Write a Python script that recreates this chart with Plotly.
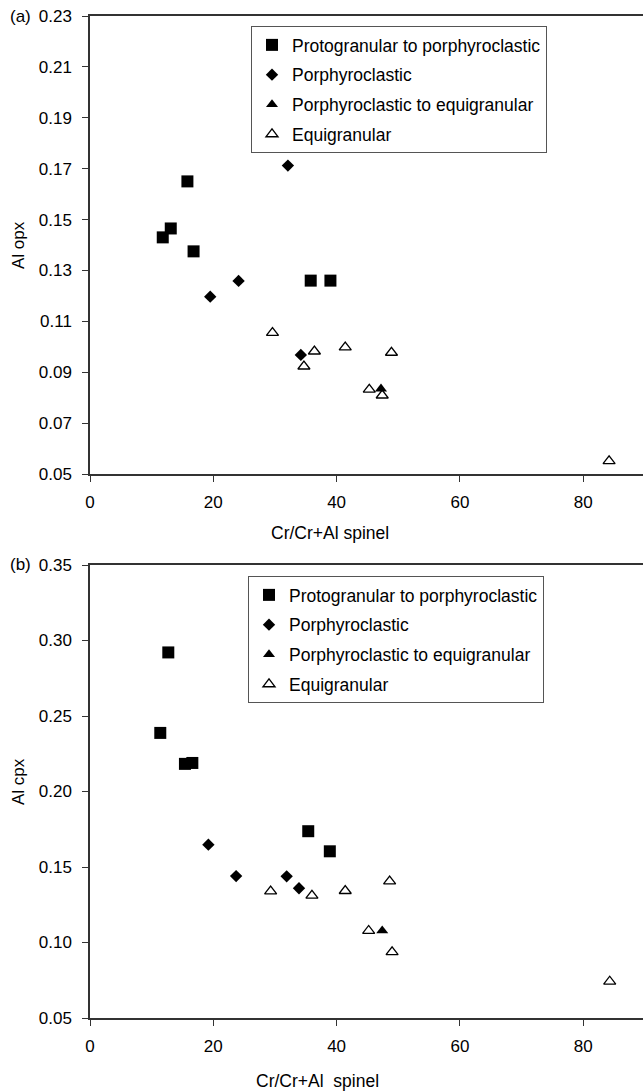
import plotly.graph_objects as go

# ---------------- data (a) Al opx ----------------
proto_x_a = [11.8, 13.1, 15.8, 16.8, 35.8, 39.0]
proto_y_a = [0.143, 0.1465, 0.165, 0.1375, 0.126, 0.126]
porph_x_a = [19.5, 24.1, 32.1, 34.2]
porph_y_a = [0.1197, 0.1259, 0.1712, 0.0968]
pte_x_a = [47.2]
pte_y_a = [0.0835]
equi_x_a = [29.6, 34.7, 36.4, 41.4, 45.3, 47.4, 48.9, 84.2]
equi_y_a = [0.1055, 0.0923, 0.0982, 0.0998, 0.0832, 0.0809, 0.0977, 0.0551]

# ---------------- data (b) Al cpx ----------------
proto_x_b = [11.4, 12.7, 15.4, 16.6, 35.4, 38.9]
proto_y_b = [0.2388, 0.2921, 0.2183, 0.2189, 0.1737, 0.1604]
porph_x_b = [19.2, 23.7, 31.9, 33.9]
porph_y_b = [0.1648, 0.1440, 0.1438, 0.1359]
pte_x_b = [47.4]
pte_y_b = [0.1078]
equi_x_b = [29.3, 36.0, 41.4, 45.2, 48.6, 49.0, 84.3]
equi_y_b = [0.1339, 0.1311, 0.1342, 0.1078, 0.1405, 0.0937, 0.0742]

names = ["Protogranular to porphyroclastic", "Porphyroclastic",
         "Porphyroclastic to equigranular", "Equigranular"]
x_ticks = [0, 20, 40, 60, 80]

FONT = "Arial, Liberation Sans, sans-serif"
styles = [
    dict(symbol="square", size=12, color="black"),
    dict(symbol="diamond", size=9.5, color="black"),
    dict(symbol="triangle-up", size=10.5, color="black"),
    dict(symbol="triangle-up-open", size=10.5, color="black", line=dict(width=1.3, color="black")),
]

fig = go.Figure()
sets_a = [(proto_x_a, proto_y_a), (porph_x_a, porph_y_a), (pte_x_a, pte_y_a), (equi_x_a, equi_y_a)]
sets_b = [(proto_x_b, proto_y_b), (porph_x_b, porph_y_b), (pte_x_b, pte_y_b), (equi_x_b, equi_y_b)]

for i, (xs, ys) in enumerate(sets_a):
    fig.add_trace(go.Scatter(x=xs, y=ys, mode="markers", name=names[i], marker=styles[i],
                             xaxis="x", yaxis="y", legend="legend", legendgroup=f"a{i}"))
for i, (xs, ys) in enumerate(sets_b):
    fig.add_trace(go.Scatter(x=xs, y=ys, mode="markers", name=names[i], marker=styles[i],
                             xaxis="x2", yaxis="y2", legend="legend2", legendgroup=f"b{i}"))

axis_common = dict(showgrid=False, zeroline=False, showline=True, linecolor="#333", linewidth=1.5,
                   ticks="outside", ticklen=6, tickwidth=1.3, tickcolor="#333",
                   tickfont=dict(family=FONT, size=17, color="black"))

W, H = 643, 1091
L, R, T, B = 90, 0, 16, 73
PH = H - T - B

def py(px):
    return (H - B - px) / PH

def pxx(px):
    return (px - L) / (W - L - R)

fig.update_layout(
    width=W, height=H,
    margin=dict(l=L, r=R, t=T, b=B),
    paper_bgcolor="white", plot_bgcolor="white",
    font=dict(family=FONT, color="black"),
    xaxis=dict(axis_common, range=[0, 89.7], tickvals=x_ticks, mirror=True, anchor="y",
               domain=[0, 1], ticklabelstandoff=6),
    yaxis=dict(axis_common, range=[0.05, 0.23], tick0=0.05, dtick=0.02, tickformat=".2f",
               anchor="x", domain=[py(474), 1], ticklabelstandoff=7),
    xaxis2=dict(axis_common, range=[0, 89.7], tickvals=x_ticks, mirror=True, anchor="y2",
                domain=[0, 1], ticklabelstandoff=6),
    yaxis2=dict(axis_common, range=[0.05, 0.35], tick0=0.05, dtick=0.05, tickformat=".2f",
                anchor="x2", domain=[0, py(565)], ticklabelstandoff=7),
    legend=dict(x=pxx(251), y=py(26), xanchor="left", yanchor="top",
                bordercolor="#555", borderwidth=1, bgcolor="white",
                font=dict(family=FONT, size=17.5, color="black"),
                traceorder="grouped", tracegroupgap=4),
    legend2=dict(x=pxx(248), y=py(576), xanchor="left", yanchor="top",
                 bordercolor="#555", borderwidth=1, bgcolor="white",
                 font=dict(family=FONT, size=17.5, color="black"),
                 traceorder="grouped", tracegroupgap=4),
    showlegend=True,
)

ann_font = dict(family=FONT, size=17, color="black")
title_font = dict(family=FONT, size=17.5, color="black")
fig.add_annotation(text="(a)", x=pxx(20), y=py(16), xref="paper", yref="paper",
                   showarrow=False, font=ann_font, xanchor="center", yanchor="middle")
fig.add_annotation(text="(b)", x=pxx(20), y=py(565), xref="paper", yref="paper",
                   showarrow=False, font=ann_font, xanchor="center", yanchor="middle")
fig.add_annotation(text="Al opx", x=pxx(18), y=py(245), xref="paper", yref="paper", textangle=-90,
                   showarrow=False, font=ann_font, xanchor="center", yanchor="middle")
fig.add_annotation(text="Al cpx", x=pxx(18), y=py(782), xref="paper", yref="paper", textangle=-90,
                   showarrow=False, font=ann_font, xanchor="center", yanchor="middle")
fig.add_annotation(text="Cr/Cr+Al spinel", x=pxx(330), y=py(533), xref="paper", yref="paper",
                   showarrow=False, font=title_font, xanchor="center", yanchor="middle")
fig.add_annotation(text="Cr/Cr+Al&nbsp;&nbsp;spinel", x=pxx(317), y=py(1081), xref="paper", yref="paper",
                   showarrow=False, font=title_font, xanchor="center", yanchor="middle")

fig.write_html("out.html")
